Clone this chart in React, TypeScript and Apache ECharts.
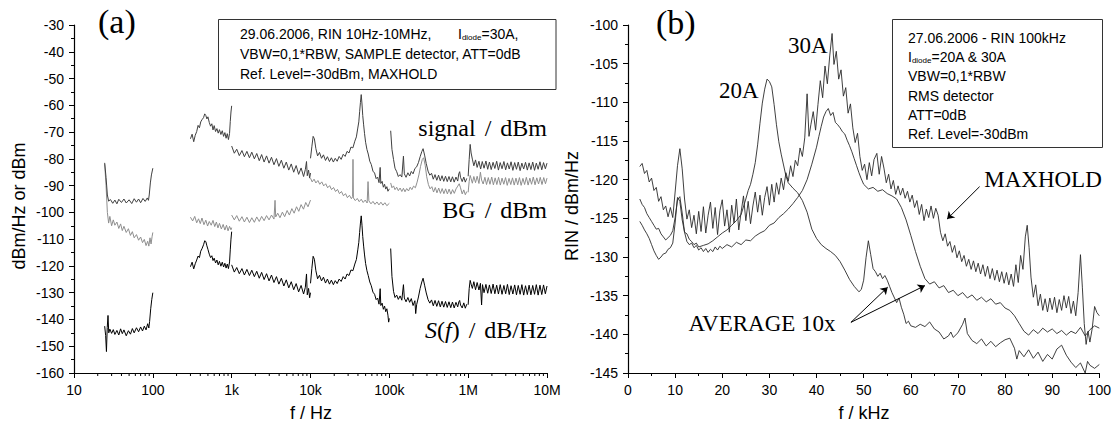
import React, { useEffect, useRef } from 'react';
import * as echarts from 'echarts';

const SANS = '"Liberation Sans", Arial, sans-serif';
const SERIF = '"Liberation Serif", "Times New Roman", serif';

// ---------- Panel (a): f in Hz, levels in dBm or dB/Hz ----------
const sig1 = [[24.5,-81.5],[25.5,-87],[26.5,-93.5],[27.5,-95.8],[29,-95.2],[31,-96.6],[33,-95.4],[35,-96.8],[37,-95.1],[40,-96.3],[43,-95.0],[46,-96.5],[50,-95.3],[54,-96.7],[58,-94.9],[62,-96.2],[66,-95.0],[70,-96.4],[75,-94.8],[80,-95.9],[85,-94.6],[88,-95.5],[90,-93.5],[93,-89],[96,-86],[100,-83.5]];
const sig2 = [[300,-72.5],[315,-70.8],[330,-73.6],[345,-71.2],[360,-69.8],[375,-67.5],[390,-68.4],[405,-66.2],[420,-65.4],[440,-64.6],[455,-63.2],[470,-63.8],[485,-65.1],[500,-64.3],[520,-66.4],[540,-67.8],[560,-66.9],[580,-69.2],[600,-67.6],[625,-69.8],[650,-68.7],[675,-70.4],[700,-69.1],[730,-70.9],[760,-69.5],[790,-71.6],[820,-70.2],[850,-72.3],[880,-70.6],[910,-72.8],[940,-70.5],[960,-66],[980,-62.5],[1000,-60.2]];
const sig3 = [[1000,-75.2],[1080,-77.9],[1160,-76.4],[1250,-78.8],[1350,-76.9],[1450,-79.2],[1560,-77.2],[1680,-79.6],[1800,-77.5],[1940,-80.0],[2080,-78.0],[2240,-80.7],[2400,-78.4],[2580,-81.2],[2770,-78.9],[2980,-81.6],[3200,-79.4],[3440,-82.2],[3700,-79.9],[3970,-82.8],[4270,-80.5],[4590,-83.5],[4930,-81.2],[5300,-84.2],[5700,-81.9],[6120,-85.0],[6580,-82.5],[7070,-85.8],[7600,-83.4],[8170,-86.6],[8600,-84.0],[8900,-81.0],[9100,-86.3],[9450,-84.2],[9750,-87.2],[10000,-85.3]];
const sig4 = [[10000,-79.8],[10400,-75.5],[10800,-71.6],[11200,-72.5],[11700,-76.2],[12300,-78.9],[13000,-77.6],[13800,-79.8],[14600,-78.5],[15500,-80.6],[16400,-79.2],[17400,-81.0],[18400,-79.6],[19500,-81.2],[20600,-79.8],[21800,-80.9],[23100,-79.1],[24500,-80.2],[26000,-78.3],[27500,-79.1],[29100,-77.2],[30800,-77.8],[32600,-75.6],[34500,-75.9],[36500,-73.4],[38200,-71.8],[39800,-68.5],[41000,-66.2],[42000,-62.4],[43000,-58.9],[44000,-56.0],[45000,-59.5],[46000,-63.8],[47200,-67.3],[48500,-70.6],[50000,-73.8],[52000,-76.5],[54000,-78.2],[56500,-80.9],[59000,-82.1],[62000,-84.6],[65000,-85.3],[68000,-87.4],[71000,-86.8],[74000,-88.9],[76500,-83.2],[78000,-89.2],[81000,-88.4],[84000,-90.6],[87000,-89.5],[90000,-91.3],[93000,-90.4],[96000,-92.1],[100000,-91.2]];
const sig5 = [[104000,-69.5],[108000,-76.5],[113000,-80.2],[118000,-83.5],[124000,-84.8],[130000,-86.6],[137000,-85.9],[144000,-86.8],[151000,-79.0],[155000,-85.6],[163000,-86.9],[172000,-85.2],[181000,-86.4],[190000,-84.7],[200000,-85.6],[211000,-83.6],[222000,-83.0],[234000,-81.4],[246000,-79.2],[258000,-77.3],[268000,-76.2],[280000,-78.6],[294000,-81.8],[310000,-84.6],[326000,-86.1],[343000,-85.4],[361000,-87.6],[380000,-85.9],[400000,-88.0],[421000,-86.1],[443000,-88.2],[466000,-86.3],[490000,-88.4],[516000,-86.5],[543000,-88.5],[571000,-86.6],[601000,-88.6],[632000,-86.7],[665000,-88.7],[700000,-86.8],[737000,-88.3],[760000,-85.6],[780000,-84.8],[800000,-86.9],[840000,-88.5],[880000,-86.8],[920000,-88.7],[960000,-87.3]];
const sig6 = [[1000000,-86.5],[1030000,-80.2],[1060000,-74.6],[1090000,-77.8],[1130000,-80.1],[1180000,-82.6],[1240000,-80.4],[1300000,-83.2],[1370000,-80.9],[1440000,-83.8],[1510000,-81.0],[1590000,-83.5],[1680000,-80.8],[1770000,-83.9],[1860000,-81.2],[1960000,-84.0],[2070000,-81.3],[2180000,-83.6],[2300000,-80.9],[2420000,-84.2],[2550000,-81.4],[2690000,-83.7],[2840000,-81.0],[2990000,-84.1],[3150000,-81.5],[3320000,-83.8],[3500000,-81.1],[3690000,-84.3],[3890000,-81.4],[4100000,-83.9],[4320000,-81.2],[4560000,-84.4],[4800000,-81.6],[5060000,-83.8],[5340000,-81.3],[5630000,-84.2],[5930000,-81.5],[6250000,-84.0],[6590000,-81.2],[6950000,-84.3],[7320000,-81.6],[7720000,-83.9],[8140000,-81.1],[8580000,-84.1],[9040000,-81.4],[9530000,-83.7],[10000000,-81.6]];

const bg1 = [[24.5,-82],[25.5,-90],[26.5,-100],[27.5,-104],[28.5,-101.5],[30,-105],[31.5,-102.8],[33,-104.8],[35,-103.6],[37,-106],[39,-104.3],[41,-106.8],[43,-105.2],[46,-107.5],[49,-106.1],[52,-108.6],[55,-107.2],[58,-109.5],[62,-108.3],[66,-110.4],[70,-109.2],[74,-111.3],[78,-110.1],[82,-112.4],[86,-110.8],[89,-112.6],[92,-109.5],[95,-111.8],[98,-108.9],[100,-107.5]];
const bg2 = [[300,-101.8],[320,-103.2],[340,-101.5],[360,-103.9],[380,-102.4],[400,-104.2],[420,-102.1],[445,-104.6],[470,-102.9],[495,-105.1],[520,-103.4],[550,-104.8],[580,-103.0],[610,-105.3],[640,-103.6],[670,-105.8],[700,-104.1],[740,-106.2],[780,-104.5],[820,-106.6],[860,-104.8],[900,-106.9],[940,-105.2],[980,-106.5],[1000,-105.7]];
const bg3 = [[1000,-101.0],[1080,-102.8],[1160,-101.2],[1250,-103.3],[1350,-101.6],[1450,-103.6],[1560,-101.8],[1680,-103.8],[1800,-102.0],[1940,-103.7],[2080,-101.7],[2240,-103.4],[2400,-101.5],[2580,-103.1],[2770,-101.2],[2980,-102.8],[3200,-101.0],[3440,-102.5],[3550,-95.5],[3620,-101.7],[3840,-100.3],[4100,-102.0],[4400,-99.9],[4700,-101.6],[5050,-99.3],[5400,-101.0],[5800,-98.6],[6200,-100.3],[6650,-97.9],[7100,-99.6],[7600,-97.1],[8150,-98.8],[8700,-96.3],[9300,-97.9],[10000,-95.4]];
const bg4 = [[10000,-87.2],[10500,-88.6],[11100,-87.6],[11700,-89.0],[12400,-88.1],[13100,-89.5],[13900,-88.6],[14700,-90.1],[15600,-89.3],[16500,-90.8],[17500,-90.0],[18500,-91.5],[19600,-90.7],[20800,-92.2],[22000,-91.4],[23300,-93.0],[24700,-92.2],[26200,-93.8],[27800,-93.0],[29400,-94.5],[31200,-93.6],[33000,-94.9],[34200,-94.1],[34600,-80.2],[35000,-94.6],[37000,-95.6],[39200,-94.8],[41500,-96.0],[44000,-95.1],[46600,-96.3],[49400,-95.4],[52300,-96.5],[53700,-88.5],[55000,-95.7],[58500,-96.8],[62000,-95.9],[65700,-97.0],[69600,-96.1],[73800,-97.2],[78200,-96.2],[82900,-97.3],[87800,-96.4],[93000,-97.5],[100000,-96.6]];
const bg5 = [[104000,-89.0],[108000,-90.8],[113000,-90.1],[118000,-91.5],[124000,-90.6],[130000,-91.9],[137000,-90.9],[144000,-92.2],[151000,-91.0],[158000,-92.3],[166000,-91.1],[175000,-92.0],[184000,-90.6],[193000,-91.5],[203000,-90.2],[214000,-90.8],[225000,-88.7],[237000,-86.0],[249000,-82.8],[262000,-80.2],[272000,-79.6],[285000,-82.4],[298000,-86.7],[313000,-89.6],[329000,-91.2],[346000,-90.4],[364000,-92.4],[383000,-90.7],[402000,-92.7],[423000,-90.9],[445000,-92.9],[468000,-91.1],[492000,-93.0],[518000,-91.2],[545000,-93.1],[573000,-91.3],[603000,-93.2],[634000,-91.5],[667000,-92.9],[702000,-91.2],[738000,-90.2],[770000,-89.3],[800000,-90.8],[840000,-93.1],[880000,-91.6],[920000,-93.4],[960000,-92.2]];
const bg6 = [[1000000,-92.5],[1030000,-88.4],[1060000,-86.2],[1090000,-87.4],[1130000,-89.1],[1180000,-86.6],[1240000,-88.9],[1300000,-86.5],[1370000,-89.2],[1430000,-85.0],[1480000,-87.9],[1550000,-89.4],[1630000,-86.9],[1710000,-89.6],[1800000,-87.0],[1890000,-89.5],[1990000,-86.8],[2090000,-89.7],[2200000,-87.1],[2310000,-89.6],[2430000,-86.9],[2560000,-89.8],[2690000,-87.2],[2830000,-89.5],[2980000,-87.0],[3130000,-89.9],[3300000,-87.3],[3470000,-89.6],[3650000,-87.1],[3840000,-89.8],[4040000,-87.2],[4250000,-89.7],[4470000,-87.0],[4700000,-89.9],[4950000,-87.3],[5200000,-89.6],[5470000,-86.9],[5760000,-89.8],[6060000,-87.2],[6370000,-89.5],[6700000,-86.8],[7050000,-89.7],[7420000,-87.1],[7810000,-89.4],[8210000,-86.9],[8640000,-89.6],[9090000,-87.0],[9560000,-89.3],[10000000,-87.2]];

const sf1 = [[24.5,-142.5],[25.2,-146],[25.8,-152],[26.4,-143],[27,-138.5],[27.6,-145],[28.5,-143.6],[30,-145.2],[31.5,-143.8],[33,-145.6],[35,-144.1],[37,-145.8],[39,-143.5],[41,-145.3],[43,-143.9],[46,-146.1],[49,-144.2],[52,-145.5],[55,-143.4],[58,-145.0],[62,-143.1],[66,-144.6],[70,-142.8],[74,-144.3],[78,-142.5],[82,-143.9],[86,-141.6],[89,-143.2],[91,-140.8],[94,-136],[97,-132.5],[100,-130]];
const sf2 = [[300,-120.3],[315,-118.6],[330,-121.1],[345,-119.2],[360,-117.8],[375,-116.3],[390,-116.9],[405,-114.5],[420,-113.6],[440,-112.1],[455,-110.6],[470,-110.9],[485,-112.5],[500,-113.8],[520,-115.6],[540,-116.9],[560,-116.2],[580,-118.0],[600,-117.1],[625,-118.9],[650,-117.8],[675,-119.6],[700,-118.3],[730,-120.1],[760,-118.6],[790,-120.4],[820,-119.0],[850,-120.8],[880,-119.3],[910,-121.0],[940,-118.5],[960,-114],[980,-110],[1000,-107.2]];
const sf3 = [[1000,-119.6],[1080,-122.3],[1160,-120.6],[1250,-122.9],[1350,-121.0],[1450,-123.4],[1560,-121.3],[1680,-123.6],[1800,-121.6],[1940,-124.0],[2080,-122.0],[2240,-124.6],[2400,-122.4],[2580,-125.1],[2770,-122.9],[2980,-125.6],[3200,-123.4],[3440,-126.2],[3700,-124.0],[3970,-126.8],[4270,-124.6],[4590,-127.5],[4930,-125.2],[5300,-128.2],[5700,-125.9],[6120,-128.9],[6580,-126.6],[7070,-129.7],[7600,-127.3],[8170,-130.5],[8600,-128.0],[8900,-123.0],[9100,-130.8],[9450,-128.4],[9750,-131.9],[10000,-130.0]];
const sf4 = [[10000,-126.5],[10400,-121.0],[10800,-116.4],[11200,-117.5],[11700,-121.8],[12300,-124.8],[13000,-123.5],[13800,-125.6],[14600,-124.2],[15500,-126.4],[16400,-124.9],[17400,-126.8],[18400,-125.3],[19500,-127.0],[20600,-125.5],[21800,-126.6],[23100,-124.9],[24500,-125.8],[26000,-124.0],[27500,-124.9],[29100,-123.0],[30800,-123.6],[32600,-121.5],[34500,-121.8],[36500,-119.3],[38200,-117.6],[39800,-114.0],[41000,-111.2],[42000,-107.5],[43000,-104.0],[44000,-101.3],[45000,-104.8],[46000,-109.0],[47200,-112.6],[48500,-115.9],[50000,-119.1],[52000,-121.8],[54000,-123.6],[56500,-126.0],[59000,-127.4],[62000,-129.8],[65000,-130.6],[68000,-132.6],[71000,-132.0],[74000,-134.3],[76500,-128.5],[78000,-134.8],[81000,-133.9],[84000,-136.2],[87000,-135.0],[90000,-137.1],[93000,-136.0],[96000,-138.4],[98000,-141.0],[100000,-139.6]];
const sf5 = [[104000,-113.5],[108000,-124.0],[113000,-129.5],[118000,-131.8],[124000,-130.9],[130000,-132.5],[137000,-131.2],[144000,-132.8],[151000,-127.0],[155000,-132.0],[163000,-133.4],[172000,-131.8],[181000,-133.6],[190000,-132.2],[200000,-134.8],[211000,-133.0],[216000,-137.8],[222000,-134.5],[234000,-131.6],[246000,-128.4],[258000,-126.0],[268000,-124.6],[280000,-127.2],[294000,-130.1],[310000,-132.6],[326000,-133.9],[343000,-132.7],[361000,-134.9],[380000,-132.9],[400000,-135.1],[421000,-133.0],[443000,-135.3],[466000,-133.2],[490000,-135.4],[516000,-133.3],[543000,-135.5],[571000,-133.4],[601000,-135.6],[632000,-133.5],[665000,-135.7],[700000,-133.6],[737000,-135.3],[760000,-133.5],[780000,-132.9],[800000,-134.6],[840000,-135.7],[880000,-133.8],[920000,-135.8],[960000,-134.3]];
const sf6 = [[1000000,-134.5],[1030000,-128.5],[1060000,-125.4],[1090000,-126.8],[1130000,-128.4],[1180000,-125.9],[1240000,-128.9],[1300000,-126.2],[1370000,-129.0],[1430000,-126.5],[1480000,-134.6],[1520000,-127.0],[1590000,-130.0],[1680000,-126.9],[1770000,-130.2],[1860000,-127.1],[1960000,-130.3],[2070000,-126.8],[2180000,-130.4],[2300000,-127.2],[2420000,-130.5],[2550000,-127.0],[2690000,-130.6],[2840000,-127.3],[2990000,-130.4],[3150000,-126.9],[3320000,-130.7],[3500000,-127.4],[3690000,-130.5],[3890000,-127.1],[4100000,-130.8],[4320000,-127.3],[4560000,-130.6],[4800000,-127.0],[5060000,-130.9],[5340000,-127.4],[5630000,-130.7],[5930000,-127.2],[6250000,-130.8],[6590000,-127.3],[6950000,-130.6],[7320000,-127.0],[7720000,-130.9],[8140000,-127.2],[8580000,-130.7],[9040000,-127.1],[9530000,-130.4],[10000000,-127.5]];

const leftXTickLabels = ['10', '100', '1k', '10k', '100k', '1M', '10M'];

// ---------- Panel (b): f in kHz, RIN in dBm/Hz ----------
const max30 = [[2.5,-118.3],[3,-117.9],[3.5,-119.2],[4,-118.8],[4.5,-120.3],[5,-119.8],[5.5,-121.4],[6,-121.0],[6.5,-122.8],[7,-122.2],[7.5,-123.9],[8,-123.4],[8.5,-124.8],[9,-123.6],[9.5,-124.9],[10,-121.6],[10.5,-118.2],[11,-116.0],[11.5,-118.6],[12,-122.5],[12.5,-125.1],[13,-123.9],[13.5,-126.2],[14,-124.6],[14.5,-127.0],[15,-124.1],[15.5,-126.7],[16,-123.5],[16.5,-126.9],[17,-124.6],[17.5,-122.9],[18,-126.3],[18.5,-123.6],[19,-127.1],[19.5,-124.0],[20,-122.6],[20.5,-126.0],[21,-123.9],[21.5,-126.8],[22,-123.3],[22.5,-125.6],[23,-122.5],[23.5,-126.5],[24,-124.2],[24.5,-122.1],[25,-125.3],[25.5,-122.8],[26,-125.7],[26.5,-123.4],[27,-121.6],[27.5,-124.2],[28,-122.0],[28.5,-124.6],[29,-122.3],[29.5,-120.9],[30,-123.3],[30.5,-120.6],[31,-122.9],[31.5,-120.4],[32,-121.9],[32.5,-119.8],[33,-121.3],[33.5,-119.1],[34,-120.2],[34.5,-118.2],[35,-119.6],[35.5,-117.5],[36,-118.2],[36.5,-115.9],[37,-117.0],[37.5,-114.6],[38,-108.9],[38.4,-114.4],[38.8,-112.9],[39.3,-111.2],[39.8,-113.6],[40.3,-110.3],[40.8,-107.2],[41.3,-109.4],[41.8,-105.3],[42.3,-107.6],[42.8,-104.0],[43.3,-101.1],[43.7,-105.1],[44.2,-103.4],[44.7,-107.0],[45.2,-105.8],[45.7,-109.2],[46.2,-108.1],[46.7,-111.4],[47.2,-110.2],[47.7,-113.3],[48.2,-115.2],[48.7,-114.0],[49.2,-117.0],[49.7,-118.8],[50.2,-118.0],[50.7,-120.0],[51.2,-117.8],[51.7,-119.5],[52.2,-117.4],[52.8,-116.6],[53.3,-119.3],[53.8,-117.0],[54.3,-118.5],[54.8,-120.4],[55.3,-119.3],[55.8,-121.2],[56.3,-120.1],[56.8,-121.9],[57.3,-120.8],[57.8,-122.0],[58.3,-121.1],[58.8,-122.4],[59.3,-121.5],[59.8,-122.9],[60.3,-122.0],[60.8,-123.6],[61.3,-122.7],[61.8,-124.5],[62.3,-123.2],[62.8,-125.3],[63.3,-123.8],[63.8,-124.9],[64.3,-123.4],[64.8,-125.0],[65.3,-123.7],[65.8,-124.6],[66.3,-126.8],[66.8,-127.9],[67.3,-127.0],[67.8,-128.6],[68.3,-128.0],[68.8,-129.4],[69.3,-128.5],[69.8,-130.1],[70.3,-129.2],[70.8,-130.6],[71.3,-129.8],[71.8,-131.2],[72.3,-130.3],[72.8,-131.6],[73.3,-130.5],[73.8,-131.9],[74.3,-130.8],[74.8,-132.2],[75.3,-131.0],[75.8,-132.5],[76.3,-131.2],[76.8,-132.8],[77.3,-131.5],[77.8,-133.0],[78.3,-131.7],[78.8,-133.2],[79.3,-131.9],[79.8,-133.4],[80.3,-132.0],[80.8,-133.6],[81.3,-132.2],[81.8,-133.8],[82.3,-131.0],[82.8,-133.3],[83.3,-129.8],[83.8,-131.6],[84.3,-127.4],[84.7,-125.9],[85.1,-128.8],[85.5,-132.6],[86.0,-135.2],[86.5,-133.6],[87.0,-136.3],[87.5,-134.8],[88.0,-136.9],[88.5,-135.4],[89.0,-137.1],[89.5,-135.3],[90.0,-136.8],[90.5,-135.2],[91.0,-137.2],[91.5,-135.5],[92.0,-136.9],[92.5,-135.0],[93.0,-136.6],[93.5,-135.1],[94.0,-137.3],[94.5,-135.7],[95.0,-137.6],[95.5,-134.6],[96.0,-129.7],[96.4,-133.9],[96.8,-138.6],[97.2,-141.3],[97.6,-139.6],[98.0,-141.0],[98.5,-139.2],[99.0,-136.4],[99.5,-137.2],[100,-137.6]];
const avg30 = [[2.5,-122.5],[3,-123.2],[3.5,-123.6],[4,-124.4],[4.5,-124.9],[5,-125.4],[5.5,-125.9],[6,-126.4],[6.5,-126.3],[7,-127.0],[7.5,-127.4],[8,-127.8],[8.5,-127.5],[9,-127.2],[9.5,-126.6],[10,-124.9],[10.5,-122.6],[11,-122.2],[11.5,-124.3],[12,-126.8],[12.5,-128.0],[13,-128.4],[13.5,-128.2],[14,-128.8],[14.5,-128.5],[15,-129.1],[15.5,-128.8],[16,-129.3],[16.5,-128.9],[17,-129.4],[17.5,-129.0],[18,-129.3],[18.5,-128.7],[19,-129.1],[19.5,-128.6],[20,-128.9],[21,-128.4],[22,-128.7],[23,-128.1],[24,-128.4],[25,-127.8],[26,-127.9],[27,-127.3],[28,-126.9],[29,-126.6],[30,-125.9],[31,-125.6],[32,-124.9],[33,-124.4],[34,-123.8],[35,-123.1],[36,-122.3],[37,-121.4],[38,-120.0],[39,-118.0],[40,-115.8],[40.5,-114.4],[41,-113.1],[41.5,-111.9],[42,-111.2],[42.5,-110.8],[43,-111.7],[43.5,-111.3],[44,-112.6],[44.5,-112.9],[45,-113.3],[45.5,-113.8],[46,-114.1],[46.5,-114.9],[47,-115.6],[47.5,-116.4],[48,-117.3],[48.5,-118.2],[49,-119.1],[49.5,-119.9],[50,-120.6],[50.5,-120.9],[51,-121.2],[52,-121.0],[53,-121.5],[54,-121.3],[55,-121.8],[56,-122.1],[57,-122.5],[58,-123.6],[59,-125.2],[60,-127.2],[61,-129.3],[62,-131.2],[63,-132.8],[64,-133.5],[65,-133.2],[66,-134.0],[67,-133.7],[68,-134.6],[69,-134.3],[70,-135.0],[71,-134.6],[72,-135.3],[73,-134.9],[74,-135.6],[75,-135.2],[76,-135.8],[77,-135.4],[78,-136.1],[79,-135.9],[80,-136.6],[81,-136.9],[82,-137.6],[83,-138.6],[84,-139.6],[85,-140.1],[86,-139.4],[87,-139.9],[88,-139.2],[89,-139.7],[90,-139.3],[91,-139.9],[92,-139.5],[93,-140.1],[94,-139.6],[95,-139.9],[96,-139.1],[97,-140.2],[98,-139.4],[99,-138.9],[100,-139.2]];
const avg20 = [[2.5,-125.4],[3,-125.9],[3.5,-126.5],[4,-127.0],[4.5,-127.6],[5,-128.4],[5.5,-129.2],[6,-129.8],[6.5,-130.3],[7,-130.0],[7.5,-129.6],[8,-129.5],[8.5,-129.0],[9,-128.8],[9.5,-128.2],[10,-125.6],[10.5,-122.3],[11,-122.8],[11.5,-125.2],[12,-126.8],[12.5,-127.0],[13,-127.7],[13.5,-128.0],[14,-128.4],[14.5,-128.2],[15,-128.7],[16,-128.5],[17,-128.3],[18,-127.9],[19,-127.4],[20,-126.9],[21,-126.5],[22,-125.9],[23,-125.3],[24,-124.5],[25,-122.5],[25.5,-121.4],[26,-120.6],[26.5,-119.3],[27,-117.8],[27.5,-115.5],[28,-112.7],[28.5,-110.1],[29,-108.3],[29.5,-107.0],[30,-107.3],[30.5,-108.0],[31,-110.3],[31.5,-112.9],[32,-115.1],[32.5,-116.7],[33,-118.1],[33.5,-119.5],[34,-120.4],[35,-121.1],[36,-121.7],[37,-122.7],[38,-124.2],[39,-126.4],[40,-127.6],[41,-128.4],[42,-128.9],[43,-129.3],[44,-129.8],[45,-130.6],[46,-131.7],[47,-132.9],[48,-133.8],[49,-134.5],[49.5,-134.2],[50,-133.0],[50.5,-130.1],[51,-127.9],[51.5,-129.7],[52,-131.5],[52.5,-131.9],[53,-132.5],[53.5,-132.1],[54,-132.8],[54.5,-132.4],[55,-133.0],[55.5,-133.8],[56,-134.6],[57,-135.9],[57.5,-135.3],[58,-136.5],[58.5,-137.4],[59,-138.6],[59.5,-138.3],[60,-138.9],[61,-139.1],[62,-138.7],[63,-139.0],[64,-138.4],[65,-139.3],[66,-139.7],[67,-140.6],[68,-140.2],[68.5,-139.7],[69,-140.4],[70,-139.8],[71,-138.7],[71.5,-137.9],[72,-139.9],[73,-140.8],[74,-141.2],[75,-140.6],[76,-141.5],[77,-140.9],[78,-141.6],[79,-141.1],[80,-140.7],[81,-140.5],[82,-141.8],[82.5,-143.2],[83,-142.1],[84,-142.9],[85,-142.0],[86,-143.1],[87,-142.3],[88,-143.5],[89,-142.6],[90,-143.2],[91,-141.9],[92,-141.4],[93,-142.7],[94,-143.6],[95,-144.3],[96,-143.7],[97,-145.0],[97.5,-143.5],[98,-144.0],[99,-144.4],[100,-143.9]];

// annotation arrows (data coordinates of panel b): [tail, head]
const maxholdArrow = [[74.6, -120.9], [67.7, -125.1]];
const averageArrows = [
  [[47.3, -138.45], [55.1, -133.9]],
  [[47.3, -138.45], [63.0, -133.7]],
];

const rightBoxLines = ['27.06.2006 - RIN 100kHz', 'I{sub|diode}=20A & 30A', 'VBW=0,1*RBW', 'RMS detector', 'ATT=0dB', 'Ref. Level=-30dBm'];

function joinSegments(segs: number[][][]) {
  const out: any[] = [];
  segs.forEach((s, i) => {
    if (i > 0) out.push([s[0][0], '-']);
    s.forEach((p) => out.push(p));
  });
  return out;
}

const leftMinorTicks: number[] = [];
for (let d = 10; d < 1e7; d *= 10) {
  for (let k = 2; k <= 9; k++) leftMinorTicks.push(k * d);
}

export default function App() {
  const ref = useRef<HTMLDivElement>(null);
  useEffect(() => {
    document.body.style.margin = '0';
    const chart = echarts.init(ref.current!, null, { renderer: 'svg' });
    const axisCommon = {
      axisLine: { show: true, onZero: false, lineStyle: { color: '#000', width: 1.2 } },
      axisTick: { show: true, length: 5, lineStyle: { color: '#000', width: 1 } },
      splitLine: { show: false },
      axisLabel: { color: '#000', fontSize: 14, fontFamily: SANS, margin: 10 },
    };
    const subRich = { sub: { fontSize: 8, fontFamily: SANS, lineHeight: 6, verticalAlign: 'bottom', fill: '#000' } };
    const sansText = (text: string, x: number, y: number) => ({
      type: 'text',
      x,
      y,
      silent: true,
      z: 21,
      style: { text, fill: '#000', fontSize: 14, fontFamily: SANS, verticalAlign: 'middle', align: 'left', lineHeight: 15, rich: subRich },
    });
    const slash = { padding: [0, 3, 0, 3], fontSize: 24, fontFamily: SERIF, fill: '#000' };
    const serifText = (text: string, x: number, y: number, size: number, align = 'left', rich?: any) => ({
      type: 'text',
      x,
      y,
      silent: true,
      style: { text, fill: '#000', fontSize: size, fontFamily: SERIF, align, verticalAlign: 'middle', rich },
    });
    const option: any = {
      animation: false,
      backgroundColor: '#fff',
      textStyle: { fontFamily: SANS },
      grid: [
        { left: 74, right: 567, top: 25, bottom: 53 },
        { left: 628, right: 13, top: 25, bottom: 53 },
      ],
      xAxis: [
        {
          ...axisCommon,
          type: 'log',
          logBase: 10,
          gridIndex: 0,
          min: 10,
          max: 1e7,
          interval: 1,
          minorTick: { show: false },
          axisLabel: {
            ...axisCommon.axisLabel,
            formatter: (v: number) => leftXTickLabels[Math.round(Math.log10(v)) - 1] ?? '',
          },
        },
        {
          ...axisCommon,
          type: 'value',
          gridIndex: 1,
          min: 0,
          max: 100,
          interval: 10,
          minorTick: { show: true, splitNumber: 2, length: 3, lineStyle: { color: '#000', width: 1 } },
        },
      ],
      yAxis: [
        {
          ...axisCommon,
          type: 'value',
          gridIndex: 0,
          min: -160,
          max: -30,
          interval: 10,
          minorTick: { show: true, splitNumber: 2, length: 3, lineStyle: { color: '#000', width: 1 } },
        },
        {
          ...axisCommon,
          type: 'value',
          gridIndex: 1,
          min: -145,
          max: -100,
          interval: 5,
          minorTick: { show: true, splitNumber: 2, length: 3, lineStyle: { color: '#000', width: 1 } },
        },
      ],
      series: [
        {
          name: 'BG', type: 'line', xAxisIndex: 0, yAxisIndex: 0, data: joinSegments([bg1, bg2, bg3, bg4, bg5, bg6]),
          symbol: 'none', connectNulls: false, lineStyle: { color: '#8e8e8e', width: 1 }, z: 2, silent: true,
        },
        {
          name: 'signal', type: 'line', xAxisIndex: 0, yAxisIndex: 0, data: joinSegments([sig1, sig2, sig3, sig4, sig5, sig6]),
          symbol: 'none', connectNulls: false, lineStyle: { color: '#404040', width: 1 }, z: 3, silent: true,
        },
        {
          name: 'S(f)', type: 'line', xAxisIndex: 0, yAxisIndex: 0, data: joinSegments([sf1, sf2, sf3, sf4, sf5, sf6]),
          symbol: 'none', connectNulls: false, lineStyle: { color: '#000', width: 1 }, z: 4, silent: true,
        },
        {
          name: 'minor', type: 'custom', xAxisIndex: 0, yAxisIndex: 0, clip: false, silent: true, z: 10,
          data: leftMinorTicks.map((v) => [v, -160]),
          renderItem: (params: any, api: any) => {
            const p = api.coord([api.value(0), api.value(1)]);
            return {
              type: 'line',
              shape: { x1: p[0], y1: p[1], x2: p[0], y2: p[1] + 3 },
              style: { stroke: '#000', lineWidth: 1 },
            };
          },
        },
        {
          name: 'MAXHOLD 30A', type: 'line', xAxisIndex: 1, yAxisIndex: 1, data: max30,
          symbol: 'none', lineStyle: { color: '#2a2a2a', width: 0.9 }, silent: true,
        },
        {
          name: 'AVERAGE 30A', type: 'line', xAxisIndex: 1, yAxisIndex: 1, data: avg30,
          symbol: 'none', lineStyle: { color: '#2a2a2a', width: 0.9 }, silent: true,
        },
        {
          name: 'AVERAGE 20A', type: 'line', xAxisIndex: 1, yAxisIndex: 1, data: avg20,
          symbol: 'none', lineStyle: { color: '#2a2a2a', width: 0.9 }, silent: true,
          markLine: {
            silent: true,
            symbol: ['none', 'arrow'],
            symbolSize: 7,
            label: { show: false },
            emphasis: { disabled: true },
            lineStyle: { color: '#000', width: 1, type: 'solid' },
            data: [maxholdArrow, ...averageArrows].map((a) => [{ coord: a[0] }, { coord: a[1] }]),
          },
        },
      ],
      graphic: [
        // info boxes
        { type: 'rect', silent: true, shape: { x: 218.5, y: 19.5, width: 337.5, height: 70 }, style: { fill: '#fff', stroke: '#333', lineWidth: 1 }, z: 20 },
        { type: 'rect', silent: true, shape: { x: 892.5, y: 19.5, width: 210, height: 128 }, style: { fill: '#fff', stroke: '#333', lineWidth: 1 }, z: 20 },
        sansText('29.06.2006, RIN 10Hz-10MHz,', 240, 34),
        sansText('I{sub|diode}=30A,', 458, 34),
        sansText('VBW=0,1*RBW, SAMPLE detector, ATT=0dB', 240, 54),
        sansText('Ref. Level=-30dBm, MAXHOLD', 240, 74),
        ...rightBoxLines.map((t, i) => sansText(t, 908, 38 + i * 19.2)),
        // axis titles
        { type: 'text', silent: true, x: 19, y: 206, rotation: Math.PI / 2, style: { text: 'dBm/Hz or dBm', fontSize: 18, fontFamily: SANS, fill: '#000', align: 'center', verticalAlign: 'middle' } },
        { type: 'text', silent: true, x: 572, y: 206, rotation: Math.PI / 2, style: { text: 'RIN / dBm/Hz', fontSize: 18, fontFamily: SANS, fill: '#000', align: 'center', verticalAlign: 'middle' } },
        { type: 'text', silent: true, x: 311, y: 413, style: { text: 'f / Hz', fontSize: 18, fontFamily: SANS, fill: '#000', align: 'center', verticalAlign: 'middle' } },
        { type: 'text', silent: true, x: 864, y: 413, style: { text: 'f / kHz', fontSize: 18, fontFamily: SANS, fill: '#000', align: 'center', verticalAlign: 'middle' } },
        // panel labels and trace annotations
        serifText('(a)', 98, 21, 34),
        serifText('(b)', 656, 22, 34),
        serifText('signal {s|/} dBm', 547, 128, 24, 'right', { s: slash }),
        serifText('BG {s|/} dBm', 547, 210, 24, 'right', { s: slash }),
        serifText('{i|S}({i|f}) {s|/} dB/Hz', 547, 330, 24, 'right', { s: slash, i: { fontStyle: 'italic', fontSize: 24, fontFamily: SERIF, fill: '#000' } }),
        serifText('30A', 788, 45, 23),
        serifText('20A', 719, 90, 23),
        serifText('MAXHOLD', 1043, 179, 23, 'center'),
        serifText('AVERAGE 10x', 762, 323, 23, 'center'),
      ],
    };
    chart.setOption(option);
    return () => chart.dispose();
  }, []);
  return <div ref={ref} style={{ width: 1114, height: 426 }} />;
}
